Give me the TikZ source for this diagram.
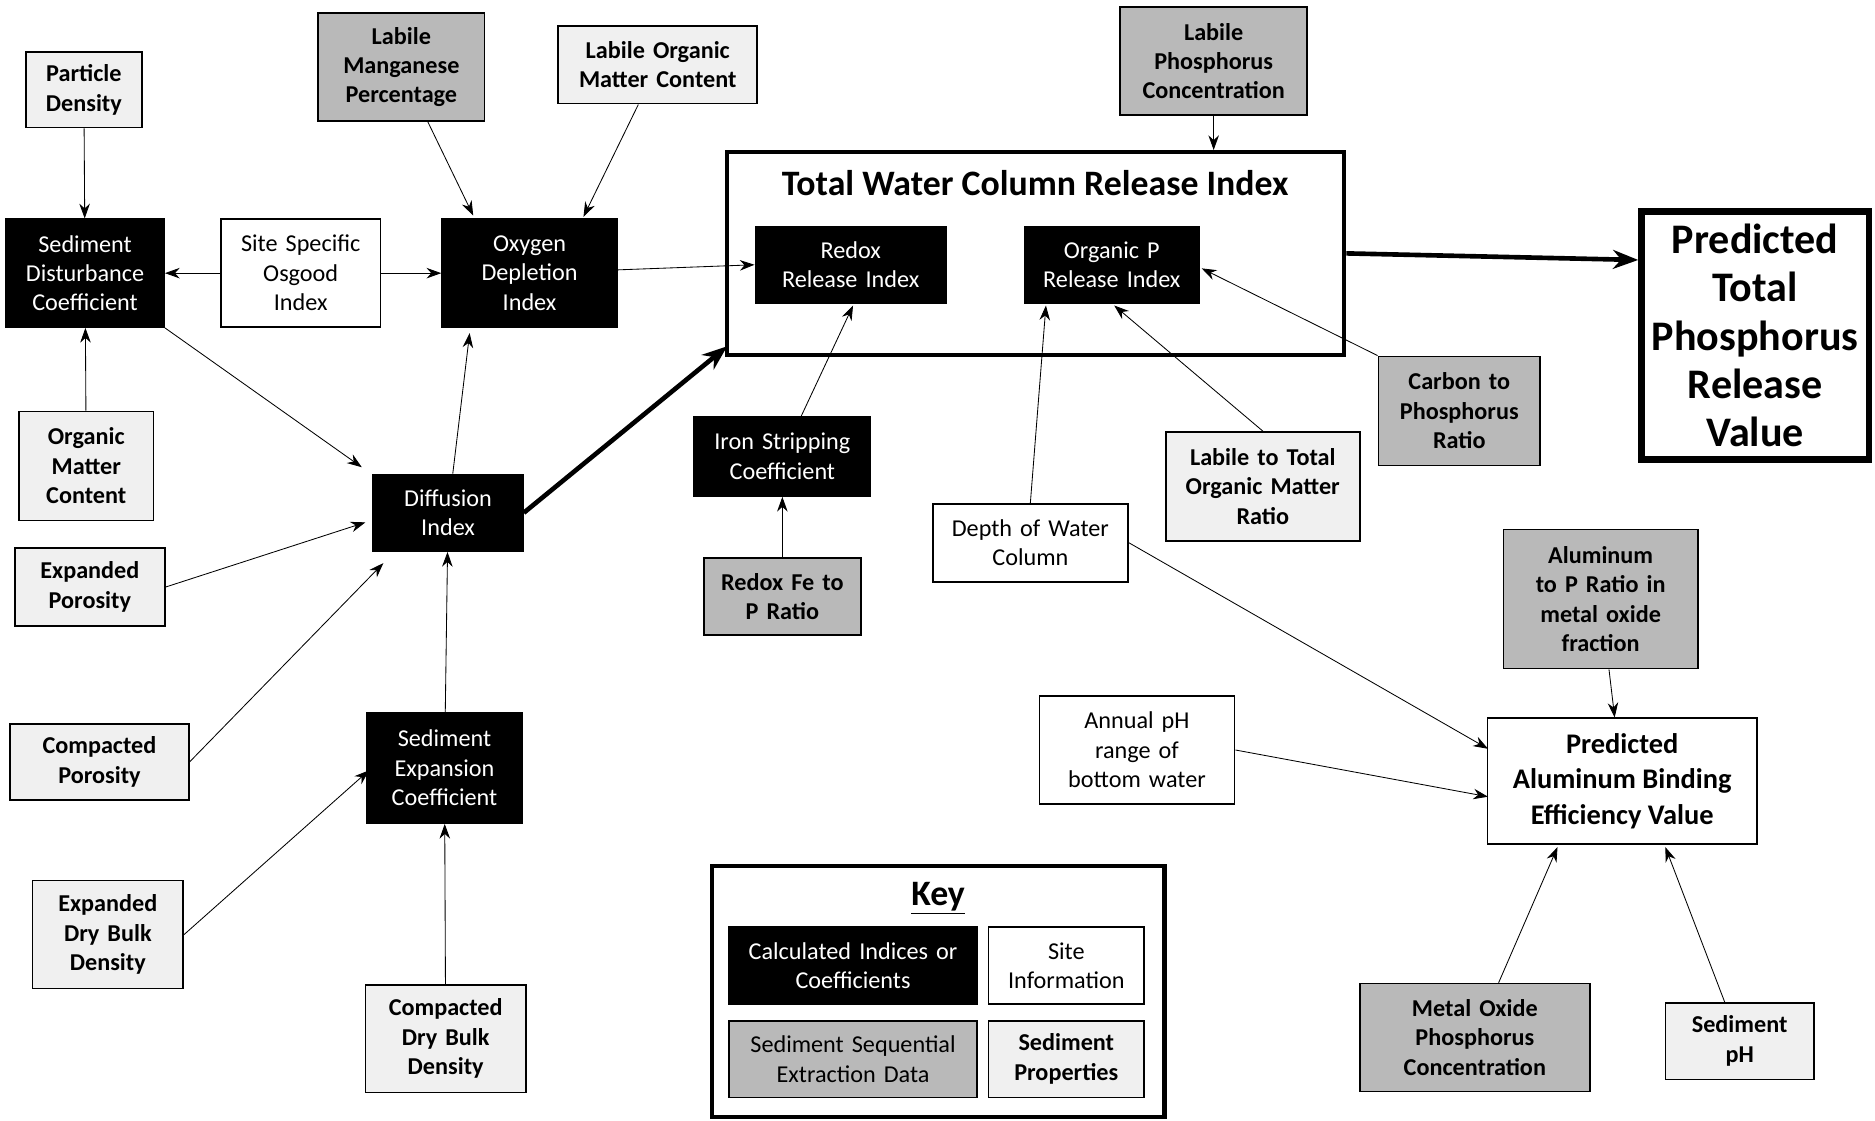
\documentclass[tikz,border=0pt]{standalone}
\usepackage{fontspec}
\setmainfont{Carlito}
\usetikzlibrary{arrows.meta}
\begin{document}
\begin{tikzpicture}[x=0.02cm,y=-0.02cm,
 base/.style={draw,thick,align=center,inner sep=2pt,font=\fontsize{11.5}{14}\selectfont},
 calc/.style={base,fill=black,text=white},
 site/.style={base,fill=white},
 seq/.style={base,fill=gray!55,font=\fontsize{11.5}{14}\selectfont\bfseries},
 prop/.style={base,fill=gray!12,font=\fontsize{11.5}{14}\selectfont\bfseries},
 arr/.style={-{Stealth[length=7pt,width=5pt]},thin},
 big/.style={-{Stealth[length=12pt,width=9pt]},line width=2.2pt}]
\useasboundingbox (0,0) rectangle (1565,935);
\newcommand{\bx}[6]{\node[#1,minimum width=#4*0.02cm,minimum height=#5*0.02cm,text width=#4*0.02cm-6pt] (#6) at (#2,#3) {};}
% helper: name, style, cx, cy, w, h, text
\def\N#1#2#3#4#5#6#7{\node[#2,minimum width=#5*0.02cm,minimum height=#6*0.02cm,text width=#5*0.02cm-6pt] (#1) at (#3,#4) {#7};}
\N{pd}{prop}{70}{75}{97}{63}{Particle\\Density}
\N{lmn}{seq}{335}{56}{139}{90}{Labile\\Manganese\\Percentage}
\N{lom}{prop}{549}{54}{166}{65}{Labile Organic\\Matter Content}
\N{lp}{seq}{1013}{51}{156}{90}{Labile\\Phosphorus\\Concentration}
\N{sdc}{calc}{71}{228}{132}{90}{Sediment\\Disturbance\\Coefficient}
\N{osg}{site}{251}{228}{133}{90}{Site Specific\\Osgood\\Index}
\N{odi}{calc}{442}{228}{146}{90}{Oxygen\\Depletion\\Index}
\node[draw,line width=2pt,minimum width=515*0.02cm,minimum height=169*0.02cm] (twc) at (864.5,211.5) {};
\node[font=\fontsize{17}{20}\selectfont\bfseries] at (864,153) {Total Water Column Release Index};
\N{rri}{calc}{710}{221}{159}{64}{Redox\\Release Index}
\N{opr}{calc}{928}{221}{146}{64}{Organic P\\Release Index}
\node[draw,line width=3pt,align=center,minimum width=190*0.02cm,minimum height=207*0.02cm,font=\fontsize{20}{23}\selectfont\bfseries] (ptp) at (1465,280) {Predicted\\Total\\Phosphorus\\Release\\Value};
\N{omc}{prop}{72}{389}{112}{91}{Organic\\Matter\\Content}
\N{dif}{calc}{374}{428}{125}{64}{Diffusion\\Index}
\N{isc}{calc}{653}{381}{147}{66}{Iron Stripping\\Coefficient}
\N{cpr}{seq}{1218}{343}{135}{91}{Carbon to\\Phosphorus\\Ratio}
\N{ltr}{prop}{1054}{406}{162}{91}{Labile to Total\\Organic Matter\\Ratio}
\N{dwc}{site}{860}{453}{163}{65}{Depth of Water\\Column}
\N{exp}{prop}{75}{490}{125}{65}{Expanded\\Porosity}
\N{rfe}{seq}{653}{498}{131}{64}{Redox Fe to\\P Ratio}
\N{alp}{seq}{1336}{500}{162}{116}{Aluminum\\to P Ratio in\\metal oxide\\fraction}
\N{cpo}{prop}{83}{636}{149}{63}{Compacted\\Porosity}
\N{sec}{calc}{371}{641}{129}{92}{Sediment\\Expansion\\Coefficient}
\N{aph}{site}{949}{626}{163}{90}{Annual pH\\range of\\bottom water}
\node[draw,thick,align=center,minimum width=225*0.02cm,minimum height=105*0.02cm,font=\fontsize{13.5}{17}\selectfont\bfseries] (alb) at (1354,652) {Predicted\\Aluminum Binding\\Efficiency Value};
\N{edb}{prop}{90}{780}{126}{90}{Expanded\\Dry Bulk\\Density}
\N{cdb}{prop}{372}{867}{134}{90}{Compacted\\Dry Bulk\\Density}
\N{mop}{seq}{1231}{866}{192}{90}{Metal Oxide\\Phosphorus\\Concentration}
\N{sph}{prop}{1452}{869}{124}{64}{Sediment\\pH}
% key
\node[draw,line width=2pt,minimum width=378*0.02cm,minimum height=209*0.02cm] (key) at (783,827.5) {};
\node[font=\fontsize{17}{20}\selectfont\bfseries] at (783,750) {\underline{Key}};
\N{k1}{calc}{712}{806}{207}{64}{Calculated Indices or\\Coefficients}
\N{k2}{site}{890}{806}{130}{64}{Site\\Information}
\N{k3}{seq}{712}{884}{207}{64}{\mdseries Sediment Sequential\\Extraction Data}
\N{k4}{prop}{890}{884}{130}{64}{Sediment\\Properties}
% arrows
\draw[arr] (pd) -- (sdc);
\draw[arr] (osg) -- (sdc);
\draw[arr] (osg) -- (odi);
\draw[arr] (lmn) -- (395,180);
\draw[arr] (lom) -- (487,181);
\draw[arr] (odi) -- (rri.west);
\draw[arr] (lp) -- (twc.north -| lp);
\draw[arr] (omc) -- (sdc);
\draw[arr] (sdc.south east) -- (302,390);
\draw[arr] (exp.east) -- (305,436);
\draw[arr] (cpo.east) -- (320,470);
\draw[arr] (dif) -- (392,278);
\draw[big] (dif.east) -- (607,289);
\draw[arr] (sec) -- (dif);
\draw[arr] (edb.east) -- (308,643);
\draw[arr] (cdb) -- (sec);
\draw[arr] (isc) -- (712,255);
\draw[arr] (rfe) -- (isc);
\draw[arr] (dwc.north) -- (873,255);
\draw[arr] (ltr.north) -- (930,255);
\draw[arr] (cpr.north west) -- (1003,224);
\draw[big] (twc.east) -- (ptp.west |- 1122,217);
\draw[arr] (dwc.east) -- (1242,625);
\draw[arr] (aph.east) -- (1242,665);
\draw[arr] (alp) -- (alb);
\draw[arr] (mop) -- (1300,707);
\draw[arr] (sph) -- (1390,707);
\end{tikzpicture}
\end{document}
